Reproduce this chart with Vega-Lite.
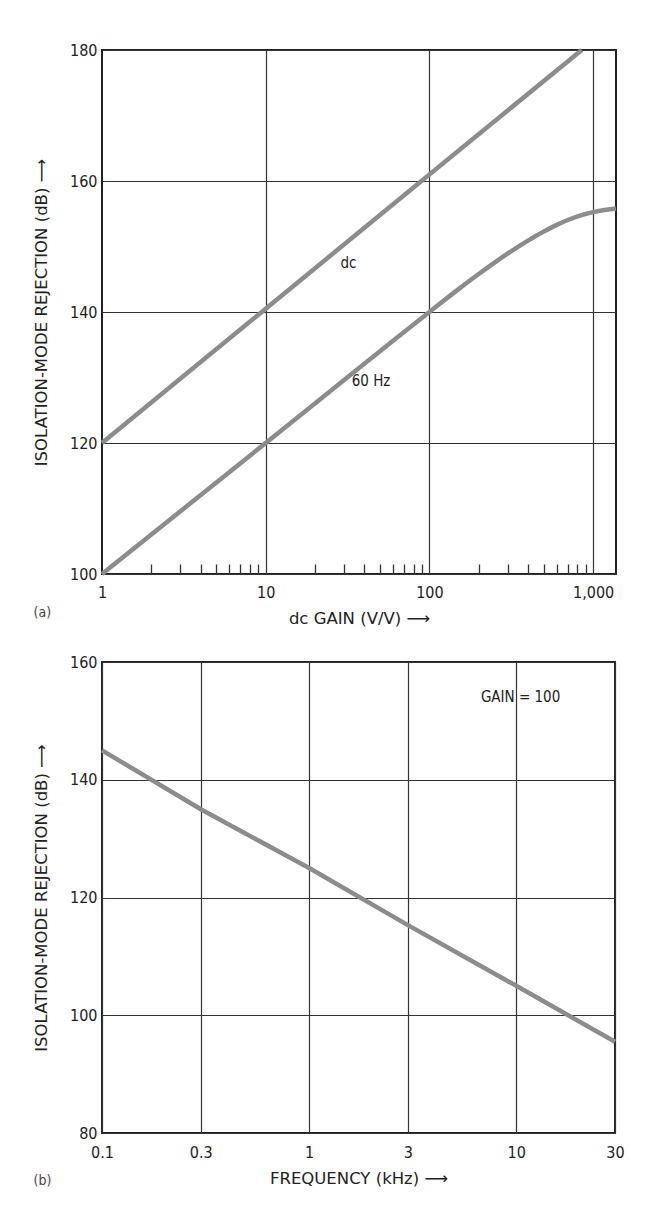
{
  "$schema": "https://vega.github.io/schema/vega-lite/v6.json",
  "background": "white",
  "padding": {"left": 32, "top": 40, "right": 0, "bottom": 10},
  "spacing": 25,
  "config": {
    "font": "'DejaVu Sans Condensed', 'Liberation Sans', sans-serif",
    "view": {"stroke": "#222", "strokeWidth": 2},
    "axis": {
      "labelFont": "'DejaVu Sans Condensed', 'Liberation Sans', sans-serif",
      "labelFontSize": 16,
      "labelColor": "#222",
      "titleFont": "'DejaVu Sans', 'Liberation Sans', sans-serif",
      "titleFontSize": 16.5,
      "titleFontWeight": "normal",
      "titleColor": "#222",
      "domain": false,
      "gridColor": "#333",
      "gridWidth": 1.2,
      "gridOpacity": 1,
      "tickColor": "#333"
    },
    "title": {"font": "'DejaVu Sans Condensed', 'Liberation Sans', sans-serif", "fontSize": 14, "fontWeight": "normal", "color": "#444"}
  },
  "vconcat": [
    {
      "width": 514,
      "height": 524,
      "title": {"text": "(a)", "orient": "bottom", "anchor": "start", "dx": 0, "offset": -21},
      "layer": [
        {
          "data": {"values": [
            {"series": "dc", "gain": 1, "db": 120},
            {"series": "dc", "gain": 10, "db": 140.5},
            {"series": "dc", "gain": 100, "db": 161},
            {"series": "dc", "gain": 853, "db": 180},
            {"series": "60 Hz", "gain": 1, "db": 100},
            {"series": "60 Hz", "gain": 10, "db": 120},
            {"series": "60 Hz", "gain": 100, "db": 140},
            {"series": "60 Hz", "gain": 150, "db": 143.45},
            {"series": "60 Hz", "gain": 200, "db": 145.8},
            {"series": "60 Hz", "gain": 250, "db": 147.55},
            {"series": "60 Hz", "gain": 300, "db": 148.9},
            {"series": "60 Hz", "gain": 400, "db": 150.9},
            {"series": "60 Hz", "gain": 500, "db": 152.3},
            {"series": "60 Hz", "gain": 600, "db": 153.3},
            {"series": "60 Hz", "gain": 700, "db": 154.05},
            {"series": "60 Hz", "gain": 850, "db": 154.8},
            {"series": "60 Hz", "gain": 1000, "db": 155.25},
            {"series": "60 Hz", "gain": 1200, "db": 155.6},
            {"series": "60 Hz", "gain": 1380, "db": 155.8}
          ]},
          "mark": {"type": "line", "color": "#8c8c8c", "strokeWidth": 4.5, "interpolate": "monotone"},
          "encoding": {
            "x": {
              "field": "gain", "type": "quantitative",
              "scale": {"type": "log", "domain": [1, 1380], "nice": false},
              "axis": {
                "title": "dc GAIN (V/V)  ⟶",
                "values": [1,2,3,4,5,6,7,8,9,10,20,30,40,50,60,70,80,90,100,200,300,400,500,600,700,800,900,1000],
                "labelExpr": "indexof([1,10,100,1000], datum.value) >= 0 ? format(datum.value, ',') : ''",
                "gridOpacity": {"condition": {"test": "indexof([10,100,1000], datum.value) >= 0", "value": 1}, "value": 0},
                "tickSize": {"condition": {"test": "indexof([1,10,100,1000], datum.value) >= 0", "value": 0}, "value": -10},
                "tickWidth": 1.3,
                "labelPadding": 10,
                "titlePadding": 10,
                "labelFlush": false
              }
            },
            "y": {
              "field": "db", "type": "quantitative",
              "scale": {"domain": [100, 180], "nice": false},
              "axis": {
                "title": "ISOLATION-MODE REJECTION (dB)  ⟶",
                "values": [100, 120, 140, 160, 180],
                "tickSize": 0,
                "labelPadding": 5,
                "titlePadding": 20
              }
            },
            "detail": {"field": "series"}
          }
        },
        {
          "data": {"values": [
            {"gain": 32, "db": 147.5, "label": "dc"},
            {"gain": 44, "db": 129.5, "label": "60 Hz"}
          ]},
          "mark": {"type": "text", "fontSize": 15, "color": "#222"},
          "encoding": {
            "x": {"field": "gain", "type": "quantitative"},
            "y": {"field": "db", "type": "quantitative"},
            "text": {"field": "label"}
          }
        }
      ]
    },
    {
      "width": 513,
      "height": 471,
      "title": {"text": "(b)", "orient": "bottom", "anchor": "start", "dx": 0, "offset": -13},
      "layer": [
        {
          "data": {"values": [
            {"freq": 0.1, "db": 145},
            {"freq": 0.3, "db": 135},
            {"freq": 1, "db": 125},
            {"freq": 3, "db": 115.3},
            {"freq": 10, "db": 105},
            {"freq": 30, "db": 95.5}
          ]},
          "mark": {"type": "line", "color": "#8c8c8c", "strokeWidth": 4.5},
          "encoding": {
            "x": {
              "field": "freq", "type": "quantitative",
              "scale": {"type": "log", "domain": [0.1, 30], "nice": false},
              "axis": {
                "title": "FREQUENCY (kHz)  ⟶",
                "values": [0.1, 0.3, 1, 3, 10, 30],
                "format": "~g",
                "tickSize": 0,
                "labelPadding": 11,
                "titlePadding": 10,
                "labelFlush": false
              }
            },
            "y": {
              "field": "db", "type": "quantitative",
              "scale": {"domain": [80, 160], "nice": false},
              "axis": {
                "title": "ISOLATION-MODE REJECTION (dB)  ⟶",
                "values": [80, 100, 120, 140, 160],
                "tickSize": 0,
                "labelPadding": 5,
                "titlePadding": 20
              }
            }
          }
        },
        {
          "data": {"values": [
            {"freq": 10.5, "db": 154, "label": "GAIN = 100"}
          ]},
          "mark": {"type": "text", "fontSize": 15, "color": "#222"},
          "encoding": {
            "x": {"field": "freq", "type": "quantitative"},
            "y": {"field": "db", "type": "quantitative"},
            "text": {"field": "label"}
          }
        }
      ]
    }
  ]
}
